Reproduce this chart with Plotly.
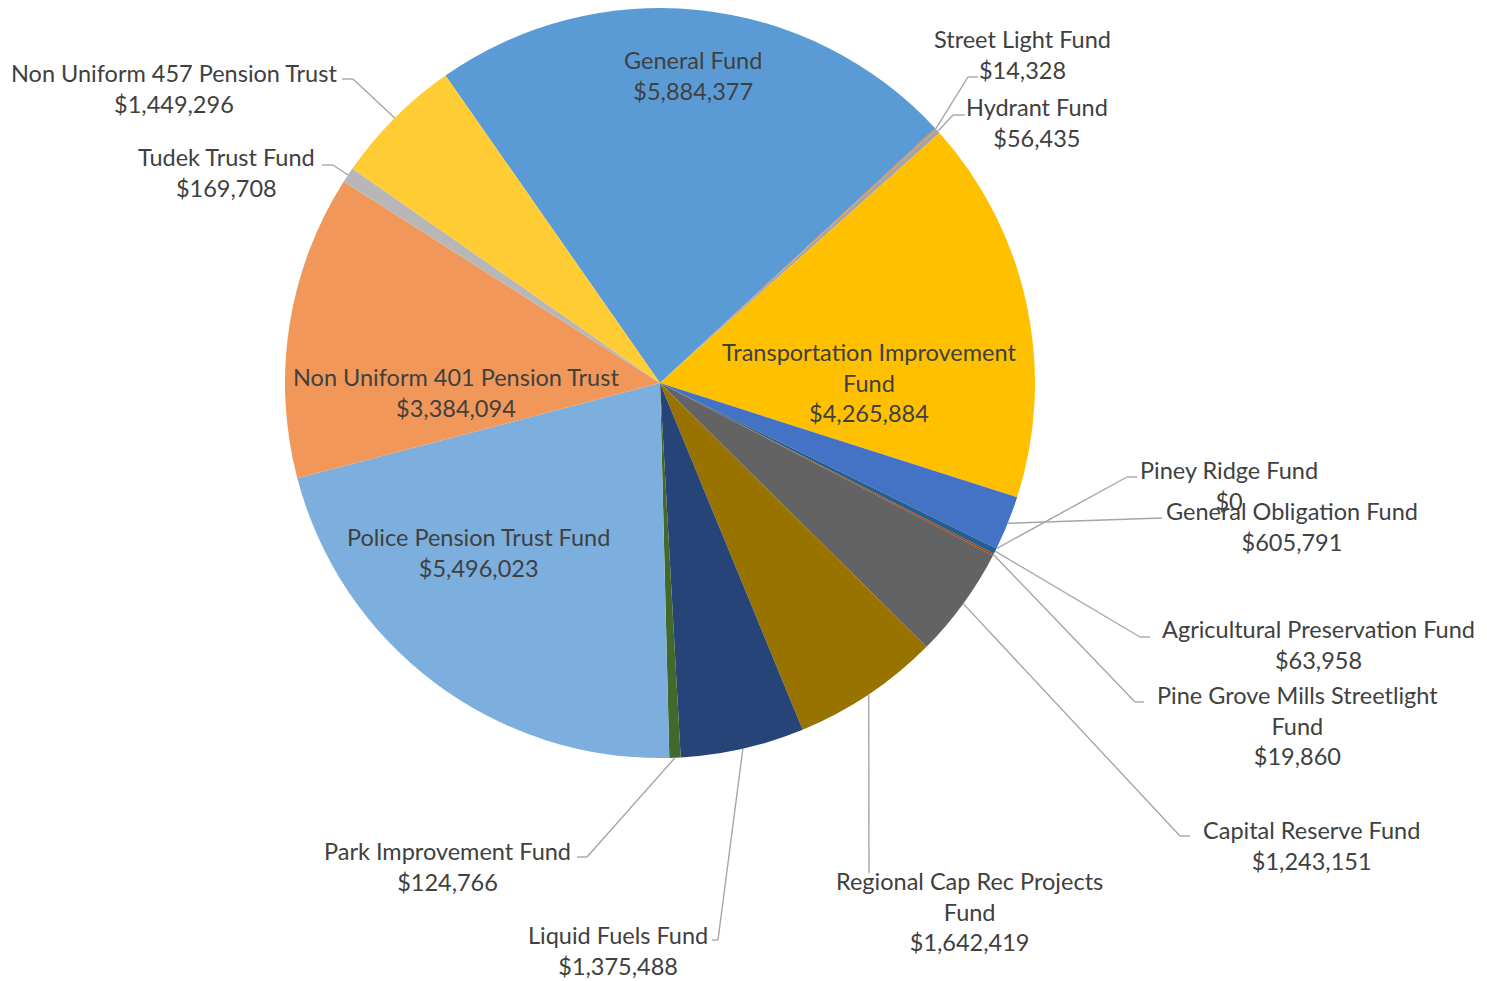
import math
import plotly.graph_objects as go

# ---------------- data ----------------
funds = [
    "General Fund", "Street Light Fund", "Hydrant Fund",
    "Transportation Improvement Fund", "General Obligation Fund", "Piney Ridge Fund",
    "Agricultural Preservation Fund", "Pine Grove Mills Streetlight Fund",
    "Capital Reserve Fund", "Regional Cap Rec Projects Fund", "Liquid Fuels Fund",
    "Park Improvement Fund", "Police Pension Trust Fund",
    "Non Uniform 401 Pension Trust", "Tudek Trust Fund", "Non Uniform 457 Pension Trust",
]
values = [
    5884377, 14328, 56435, 4265884, 605791, 0, 63958, 19860,
    1243151, 1642419, 1375488, 124766, 5496023, 3384094, 169708, 1449296,
]

# ---------------- style ----------------
colors = [
    "#5B9BD5", "#ED7D31", "#A5A5A5", "#FFC000", "#4472C4", "#70AD47",
    "#255E91", "#9E480E", "#636363", "#997300", "#264478", "#43682B",
    "#7CAFDD", "#F1975A", "#B7B7B7", "#FFCD33",
]
wrapped = {
    "Transportation Improvement Fund": "Transportation Improvement<br>Fund",
    "Pine Grove Mills Streetlight Fund": "Pine Grove Mills Streetlight<br>Fund",
    "Regional Cap Rec Projects Fund": "Regional Cap Rec Projects<br>Fund",
}

W, H = 1487, 981
CX, CY, R = 660, 383, 375
ROT = -34.9
FONT = "Lato"
FONT_SIZE = 23.5
TXT = "#404040"
LINE = "#A6A6A6"

# label centre (px) and leader path points after the slice edge (px)
label_layout = {
    "General Fund": ((693, 75), None),
    "Street Light Fund": ((1022, 54), [(968, 77), (978, 77)]),
    "Hydrant Fund": ((1037, 123), [(953, 115), (965, 115)]),
    "Transportation Improvement Fund": ((869, 382), None),
    "General Obligation Fund": ((1292, 526), [(1162, 518)]),
    "Piney Ridge Fund": ((1229, 485), [(1127, 477), (1137, 477)]),
    "Agricultural Preservation Fund": ((1318, 644), [(1140, 637), (1150, 637)]),
    "Pine Grove Mills Streetlight Fund": ((1297, 725), [(1135, 702), (1144, 702)]),
    "Capital Reserve Fund": ((1311, 845), [(1180, 836), (1190, 836)]),
    "Regional Cap Rec Projects Fund": ((969, 911), [(869, 873)]),
    "Liquid Fuels Fund": ((618, 950), [(718, 940), (712, 940)]),
    "Park Improvement Fund": ((447, 866), [(587, 857), (577, 857)]),
    "Police Pension Trust Fund": ((478, 552), None),
    "Non Uniform 401 Pension Trust": ((456, 392), None),
    "Tudek Trust Fund": ((227, 172), [(333, 165), (322, 165)]),
    "Non Uniform 457 Pension Trust": ((174, 88), [(353, 79), (342, 79)]),
}


def px(x):
    return x / W


def py(y):
    return 1 - y / H


fig = go.Figure(go.Pie(
    labels=funds,
    values=values,
    sort=False,
    direction="clockwise",
    rotation=ROT,
    marker=dict(colors=colors, line=dict(width=0)),
    textinfo="none",
    showlegend=False,
    domain=dict(x=[px(CX - R), px(CX + R)], y=[py(CY + R), py(CY - R)]),
))

total = sum(values)
annotations = []
shapes = []
cum = 0.0
for name, v in zip(funds, values):
    mid = ROT + (cum + v / 2) / total * 360.0
    cum += v
    (lx, ly), path = label_layout[name]
    text = f"{wrapped.get(name, name)}<br>${v:,}"
    annotations.append(dict(
        x=px(lx), y=py(ly), xref="paper", yref="paper",
        text=text, showarrow=False, xanchor="center", yanchor="middle",
        align="center", font=dict(family=FONT, size=FONT_SIZE, color=TXT),
    ))
    if path:
        a = math.radians(mid)
        sx = CX + R * math.sin(a)
        sy = CY - R * math.cos(a)
        pts = [(sx, sy)] + path
        for (x0, y0), (x1, y1) in zip(pts[:-1], pts[1:]):
            shapes.append(dict(
                type="line", xref="paper", yref="paper",
                x0=px(x0), y0=py(y0), x1=px(x1), y1=py(y1),
                line=dict(color=LINE, width=1.4),
            ))

fig.update_layout(
    width=W, height=H, autosize=False,
    margin=dict(l=0, r=0, t=0, b=0),
    paper_bgcolor="white", plot_bgcolor="white",
    annotations=annotations, shapes=shapes,
)

fig.write_html("out.html")
